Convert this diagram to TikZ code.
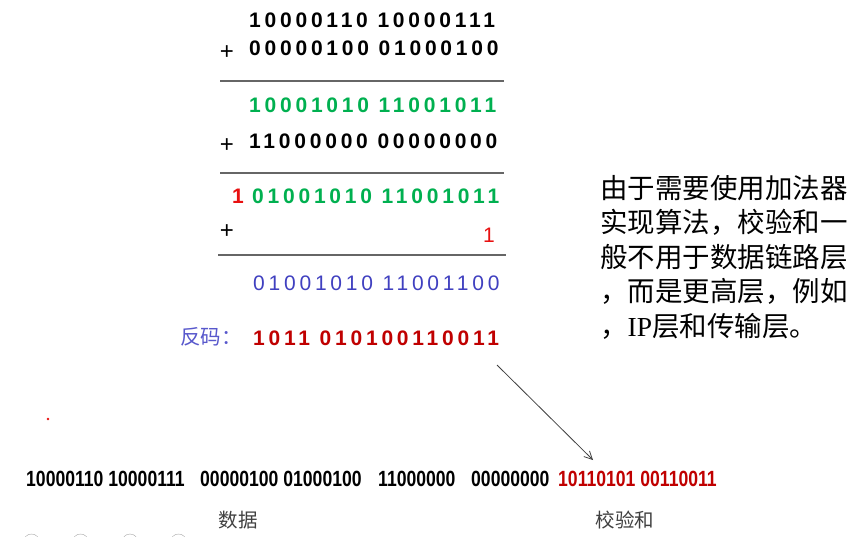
\documentclass[tikz,border=0pt]{standalone}
\usepackage{fontspec}
\setmainfont{Liberation Sans}
\newfontfamily\digf[LetterSpace=18]{Liberation Sans}
\newfontfamily\narrowf[FakeStretch=0.8]{Liberation Sans}
\newfontfamily\cjk{Noto Sans CJK SC}
\newfontfamily\serf{Liberation Serif}
\usetikzlibrary{arrows.meta}
\definecolor{gr}{HTML}{00B050}
\definecolor{dred}{HTML}{C00000}
\definecolor{bred}{HTML}{E81010}
\definecolor{blu}{HTML}{4040C0}
\definecolor{lblu}{HTML}{5858CC}
\definecolor{capc}{HTML}{404040}
\tikzset{
  dig/.style={inner sep=0pt, anchor=base west, font=\digf\bfseries\fontsize{21}{21}\selectfont},
  digl/.style={inner sep=0pt, anchor=base west, font=\digf\fontsize{21}{21}\selectfont},
  plus/.style={inner sep=0pt, font=\fontsize{24}{24}\selectfont},
  rulel/.style={draw=gray!80!black, line width=1.6pt},
  bot/.style={inner sep=0pt, anchor=base west, font=\narrowf\bfseries\fontsize{22}{22}\selectfont},
  capt/.style={inner sep=0pt, text=capc, font=\cjk\fontsize{19.5}{19.5}\selectfont},
  note/.style={inner sep=0pt, anchor=west, font=\cjk\fontsize{27.5}{27.5}\selectfont},
}
\begin{document}
\begin{tikzpicture}[x=1pt,y=-1pt]
\useasboundingbox (0,0) rectangle (856,536);
\clip (0,0) rectangle (856,536);
\fill[white] (0,0) rectangle (856,536);
% sum rows
\node[dig] (r1) at (249,27) {10000110 10000111};
\node[dig] (r2) at (249,55) {00000100 01000100};
\node[plus] (p1) at (227,53) {+};
\draw[rulel] (220,81) -- (504,81);
\node[dig, text=gr] (g1) at (249,112) {10001010 11001011};
\node[dig] (r4) at (249,148) {11000000 00000000};
\node[plus] (p2) at (227,146) {+};
\draw[rulel] (220,173) -- (504,173);
\node[dig, text=bred] (c1) at (232,203) {1};
\node[dig, text=gr] (g2) at (252,203) {01001010 11001011};
\node[plus] (p3) at (227,232) {+};
\node[inner sep=0pt, anchor=base east, text=bred, font=\fontsize{21}{21}\selectfont] (c2) at (495,242) {1};
\draw[rulel] (218,255) -- (506,255);
\node[digl, text=blu] (b1) at (253,290) {01001010 11001100};
\node[inner sep=0pt, anchor=west, text=lblu, font=\cjk\fontsize{20.5}{20.5}\selectfont] (fm) at (180,337) {反码：};
\node[dig, text=dred] (fd) at (253,345) {1011 010100110011};
% arrow
\coordinate (as) at (497,365);
\coordinate (ae) at (593,460);
\draw[capc, line width=0.8pt, -{Straight Barb[length=8pt,width=8pt]}] (as) -- (ae);
% red dot
\fill[bred] (48,419) circle (1.4);
% bottom line
\node[bot] (n1) at (26,486) {10000110 10000111};
\node[bot] (n2) at (200,486) {00000100 01000100};
\node[bot] (n3) at (378,486) {11000000};
\node[bot] (n4) at (471,486) {00000000};
\node[bot, text=dred] (n5) at (558,486) {10110101 00110011};
\node[capt] (d1) at (238,520) {数据};
\node[capt] (d2) at (625,520) {校验和};
% note
\node[note] (t1) at (600,188) {由于需要使用加法器};
\node[note] (t2) at (600,222.5) {实现算法，校验和一};
\node[note] (t3) at (600,257) {般不用于数据链路层};
\node[note] (t4) at (600,291.5) {，而是更高层，例如};
\node[note] (t5) at (600,326) {，{\serf IP}层和传输层。};
% partial circles at bottom edge
\foreach \cx/\nm in {31.5/o1,80.5/o2,130/o3,178.5/o4}
  \node[draw=gray!70, circle, minimum size=16pt, inner sep=0pt] (\nm) at (\cx,542) {};
\end{tikzpicture}
\end{document}
